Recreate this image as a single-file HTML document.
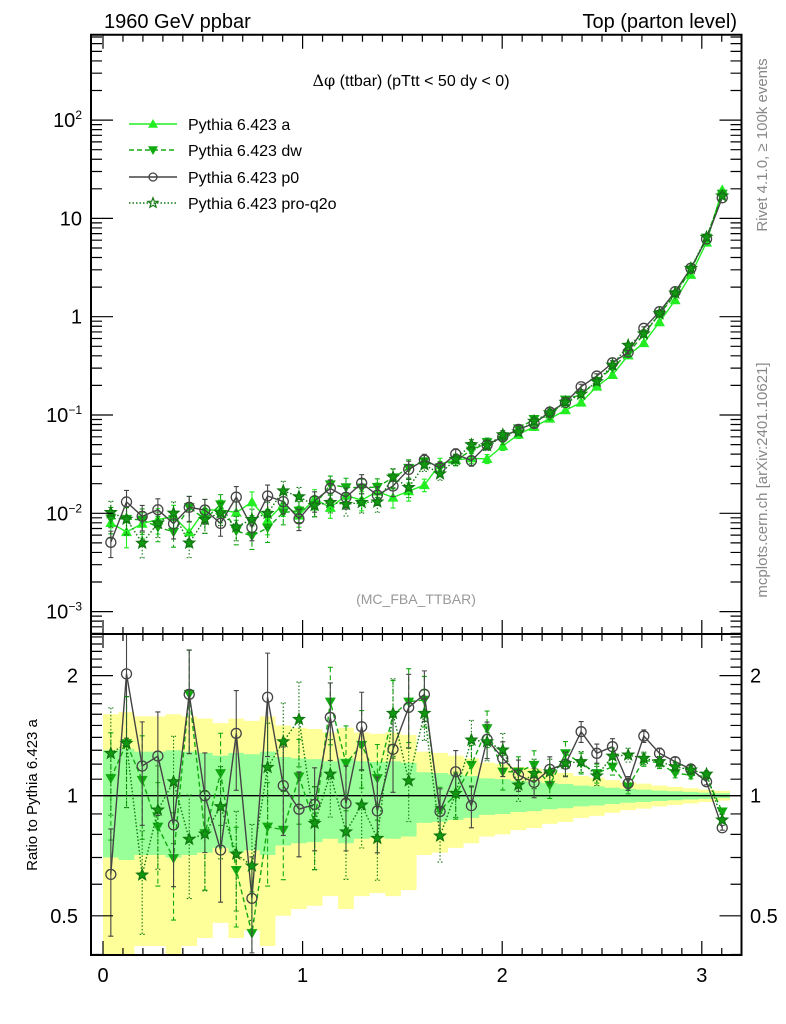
<!DOCTYPE html>
<html><head><meta charset="utf-8"><style>
html,body{margin:0;padding:0;background:#fff;}
svg{display:block;font-family:"Liberation Sans",Arial,sans-serif;}
</style></head><body>
<svg id="chart" xmlns="http://www.w3.org/2000/svg" width="786" height="1024" viewBox="0 0 786 1024">
<defs>
<clipPath id="cm"><rect x="91" y="35" width="650" height="599"/></clipPath>
<clipPath id="cr"><rect x="91" y="634" width="650" height="321"/></clipPath>
</defs>
<g id="bands" clip-path="url(#cr)"></g>
<g id="mainMarks" clip-path="url(#cm)"></g>
<g id="ratioMarks" clip-path="url(#cr)"></g>
<g id="axes"></g>
<text x="104" y="28" font-size="20">1960 GeV ppbar</text>
<text x="737" y="28" font-size="20" text-anchor="end">Top (parton level)</text>
<text x="411" y="86" font-size="16" text-anchor="middle"><tspan font-family="DejaVu Serif, serif">Δφ</tspan> (ttbar) (pTtt &lt; 50 dy &lt; 0)</text>
<text x="416" y="604" font-size="14" fill="#999" text-anchor="middle">(MC_FBA_TTBAR)</text>
<text transform="translate(767,145) rotate(-90)" font-size="15" fill="#888" text-anchor="middle">Rivet 4.1.0, ≥ 100k events</text>
<text transform="translate(767,480) rotate(-90)" font-size="15" fill="#888" text-anchor="middle">mcplots.cern.ch [arXiv:2401.10621]</text>
<text transform="translate(37,795) rotate(-90)" font-size="15" text-anchor="middle">Ratio to Pythia 6.423 a</text>
<g id="legend"></g>
</svg>
<script>
const NB = 40;
const aVals = [0.00798,0.00646,0.00785,0.00865,0.00927,0.00641,0.0108,0.0108,0.0102,0.0130,0.0085,0.0124,0.0095,0.0141,0.0114,0.0152,0.0136,0.0167,0.0145,0.0168,0.0194,0.0318,0.0349,0.0363,0.0358,0.0484,0.0634,0.0760,0.0920,0.112,0.134,0.195,0.256,0.405,0.540,0.881,1.476,2.67,5.69,19.5];
const dwRatio = [1.106,1.353,1.095,0.836,0.697,1.798,0.805,1.138,0.651,0.452,0.836,0.821,1.116,0.853,1.72,1.206,1.34,1.106,1.593,1.72,1.738,0.921,1.004,1.194,1.475,1.148,1.148,1.194,1.064,1.277,1.206,1.138,1.182,1.053,1.229,1.206,1.138,1.127,1.116,0.912];
const p0Ratio = [0.635,2.02,1.187,1.257,0.845,1.795,1.0,0.731,1.433,0.553,1.765,1.06,0.925,0.951,1.571,0.957,1.489,0.916,1.307,1.665,1.795,0.913,1.148,0.944,1.384,1.241,1.127,1.08,1.164,1.2,1.447,1.277,1.327,1.074,1.411,1.277,1.217,1.166,1.084,0.831];
const q2oRatio = [1.277,1.353,0.633,0.921,1.084,0.778,0.802,0.939,0.714,0.667,1.178,1.366,1.554,0.853,1.133,0.812,0.948,0.782,1.609,1.09,1.609,0.793,1.014,1.379,1.366,1.302,1.064,1.138,1.148,1.206,1.217,1.122,1.257,1.265,1.241,1.217,1.182,1.16,1.133,0.869];
const relErr = [0.30,0.31,0.29,0.29,0.30,0.29,0.28,0.26,0.28,0.27,0.29,0.25,0.24,0.235,0.22,0.24,0.22,0.215,0.22,0.21,0.145,0.14,0.13,0.12,0.105,0.10,0.09,0.085,0.075,0.07,0.06,0.055,0.047,0.04,0.036,0.03,0.026,0.022,0.018,0.014];
const mainTicks = [-3,-2,-1,0,1,2];
const mainTickLabels = ["10<tspan dy='-8' font-size='12'>−3</tspan>","10<tspan dy='-8' font-size='12'>−2</tspan>","10<tspan dy='-8' font-size='12'>−1</tspan>","1","10","10<tspan dy='-8' font-size='12'>2</tspan>"];
const ratioTicks = [0.5,1,2];
const ratioTickLabels = ["0.5","1","2"];
const xTicks = [0,1,2,3];
const xTickLabels = ["0","1","2","3"];

const NS="http://www.w3.org/2000/svg";
const X0=91,X1=741.5,MT=34.7,MB=634,RB=955;
const X=v=>103+v*199.6;
const Y=v=>316.7-Math.log10(v)*98.3;
const R=v=>795.7-Math.log10(v)*399;
const bw=Math.PI/NB;
const xc=i=>(i+0.5)*bw;
function mk(tag,attrs,parent){const e=document.createElementNS(NS,tag);for(const k in attrs)e.setAttribute(k,attrs[k]);parent.appendChild(e);return e;}

const bands=document.getElementById('bands');
let yp='',gp='';
for(let i=0;i<NB;i++){
  const xa=X(i*bw),xb=X((i+1)*bw),e=relErr[i];
  const y1=R(1+2*e),y2=R(Math.max(1-2*e,0.3));
  const g1=R(1+e),g2=R(1-e);
  yp+=`M${xa},${y1}H${xb}V${y2}H${xa}Z`;
  gp+=`M${xa},${g1}H${xb}V${g2}H${xa}Z`;
}
const yb=mk('path',{d:yp,fill:'#ffff99'},bands);


const gb=mk('path',{d:gp,fill:'#99ff99'},bands);



const series=[
 {name:'a',color:'#22ee22',dash:'',marker:'up',ratio:aVals.map(()=>1)},
 {name:'dw',color:'#11aa11',dash:'5,3',marker:'down',ratio:dwRatio},
 {name:'p0',color:'#444444',dash:'',marker:'circle',ratio:p0Ratio},
 {name:'pro-q2o',color:'#117711',dash:'1.5,2',marker:'star',ratio:q2oRatio}
];
function marker(g,type,x,y,c,s,open){
  let el;
  if(type==='up') el=mk('path',{d:`M${x},${y-s}L${x+s},${y+s*0.75}L${x-s},${y+s*0.75}Z`,fill:c},g);
  else if(type==='down') el=mk('path',{d:`M${x},${y+s}L${x+s},${y-s*0.75}L${x-s},${y-s*0.75}Z`,fill:c},g);
  else if(type==='circle') el=mk('circle',{cx:x,cy:y,r:s,fill:'none',stroke:c,'stroke-width':1.3},g);
  else {let p='';for(let k=0;k<10;k++){const r=k%2?s*0.45:s*1.05,a=-Math.PI/2+k*Math.PI/5;p+=(k?'L':'M')+(x+r*Math.cos(a)).toFixed(1)+','+(y+r*Math.sin(a)).toFixed(1);}
    el=mk('path',{d:p+'Z',fill:open?'none':'#119911',stroke:c,'stroke-width':1.2},g);}
  return el;
}
function drawSeries(parent,vals,scale,s,tag){
  const g=mk('g',{},parent);
  
  
  let d='';
  vals.forEach((v,i)=>{d+=(i?'L':'M')+X(xc(i)).toFixed(1)+','+scale(v).toFixed(1);});
  const ln=mk('path',{d:d,fill:'none',stroke:s.color,'stroke-width':1.4,'stroke-dasharray':s.dash},g);
  
  
  vals.forEach((v,i)=>{
    const x=X(xc(i)),e=relErr[i];
    const y1=scale(v*(1+e)),y2=scale(Math.max(v*(1-e),1e-9));
    const eb=mk('path',{d:`M${x},${y1}V${Math.min(y2,2000)}M${x-2.5},${y1}h5M${x-2.5},${Math.min(y2,2000)}h5`,stroke:s.color,'stroke-width':1.1,'stroke-dasharray':s.dash,fill:'none'},g);
    
    
    const m=marker(g,s.marker,x,scale(v),s.color,s.marker==='circle'?5:5.5,false);
    
    
  });
}
const mainG=document.getElementById('mainMarks'),ratG=document.getElementById('ratioMarks');
series.forEach(s=>{
  const mv=aVals.map((a,i)=>a*s.ratio[i]);
  drawSeries(mainG,mv,Y,s,'main');
});
const one=mk('line',{x1:X0,x2:X1,y1:R(1),y2:R(1),stroke:'#000','stroke-width':1.3},ratG);


series.slice(1).forEach(s=>drawSeries(ratG,s.ratio,R,s,'ratio'));

const ax=document.getElementById('axes');
const fr=mk('path',{d:`M${X0},${MT}H${X1}V${RB}H${X0}Z M${X0},${MB}H${X1}`,fill:'none',stroke:'#000','stroke-width':2},ax);


let tk='';
for(let k=0;k<=32;k++){const v=k*0.1;if(v>3.19)break;const x=X(v),L=(k%10===0)?14:7;
  tk+=`M${x},${MT}v${L}M${x},${MB}v-${L}M${x},${MB}v${L}M${x},${RB}v-${L}`;}
for(let dcd=-4;dcd<=2;dcd++){for(let m=1;m<=9;m++){const y=Y(m*Math.pow(10,dcd));if(y<MT||y>MB)continue;const L=m===1?22:11;
  tk+=`M${X0},${y}h${L}M${X1},${y}h-${L}`;}}
[0.4,0.5,0.6,0.7,0.8,0.9,1,1.1,1.2,1.3,1.4,1.5,1.6,1.7,1.8,1.9,2,2.1,2.2,2.3,2.4,2.5].forEach(v=>{const y=R(v);if(y<MB||y>RB)return;const L=ratioTicks.includes(v)?22:11;tk+=`M${X0},${y}h${L}M${X1},${y}h-${L}`;});
const tp=mk('path',{d:tk,stroke:'#000','stroke-width':1.2,fill:'none'},ax);


mainTicks.forEach((p,i)=>{const t=mk('text',{x:82,y:Y(Math.pow(10,p))+7,'font-size':20,'text-anchor':'end'},ax);t.innerHTML=mainTickLabels[i];
  
  });
ratioTicks.forEach((v,i)=>{
  const t=mk('text',{x:78,y:R(v)+7,'font-size':20,'text-anchor':'end'},ax);t.textContent=ratioTickLabels[i];
  
  
  const t2=mk('text',{x:750,y:R(v)+7,'font-size':20},ax);t2.textContent=ratioTickLabels[i];
  
  });
xTicks.forEach((v,i)=>{const t=mk('text',{x:X(v),y:982,'font-size':20,'text-anchor':'middle'},ax);t.textContent=xTickLabels[i];
  
  });

const lg=document.getElementById('legend');
const labels=['Pythia 6.423 a','Pythia 6.423 dw','Pythia 6.423 p0','Pythia 6.423 pro-q2o'];
const ly=[124,150,177,203];
series.forEach((s,i)=>{
  const g=mk('g',{},lg);
  
  
  mk('line',{x1:129,x2:177,y1:ly[i],y2:ly[i],stroke:s.color,'stroke-width':1.4,'stroke-dasharray':s.dash},g);
  marker(g,s.marker,153,ly[i],s.color,s.marker==='circle'?4:5,true);
  const t=mk('text',{x:188,y:ly[i]+6,'font-size':16},g);t.textContent=labels[i];
});
</script>
</body></html>
